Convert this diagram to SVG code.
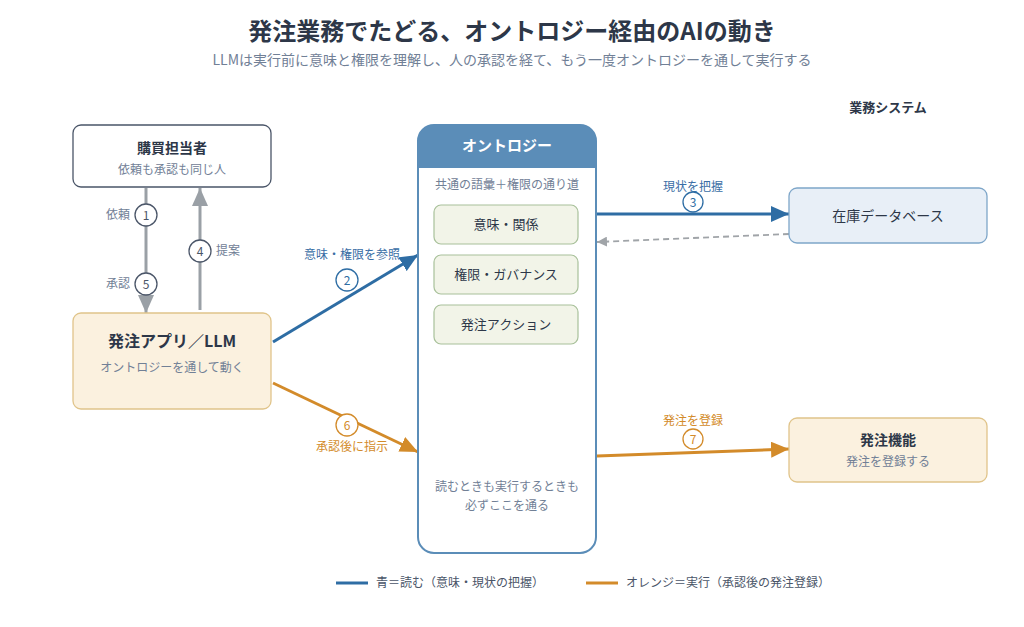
<svg xmlns="http://www.w3.org/2000/svg" width="1024" height="627" viewBox="0 0 1024 627">
<style>
text{font-family:"Noto Sans CJK JP","Noto Sans",sans-serif}
.title{font-size:24px;font-weight:700;fill:#2d3748}
.sub{font-size:14px;fill:#718096}
.h{font-size:14px;font-weight:700;fill:#2d3748}
.s{font-size:12px;fill:#718096}
.n{font-size:13px;fill:#2d3748}
.lb{font-size:12px;fill:#3a6ea5}
.lo{font-size:12px;fill:#d38b2a}
.lg{font-size:12px;fill:#718096}
.circ{fill:#fff;stroke-width:1.3}
.cn{font-size:12px}
</style>
<defs>
<marker id="ab" markerUnits="userSpaceOnUse" markerWidth="20" markerHeight="16" refX="18" refY="8" orient="auto"><path d="M0,0 L18,8 L0,16 z" fill="#2e6da4"/></marker>
<marker id="ao" markerUnits="userSpaceOnUse" markerWidth="20" markerHeight="16" refX="18" refY="8" orient="auto"><path d="M0,0 L18,8 L0,16 z" fill="#d38b2a"/></marker>
<marker id="ag" markerUnits="userSpaceOnUse" markerWidth="20" markerHeight="16" refX="18" refY="8" orient="auto"><path d="M0,0 L18,8 L0,16 z" fill="#9aa0a6"/></marker>
<marker id="agd" markerUnits="userSpaceOnUse" markerWidth="12" markerHeight="10" refX="10" refY="5" orient="auto"><path d="M0,0 L10,5 L0,10 z" fill="#a0a4a8"/></marker>
</defs>
<rect width="1024" height="627" fill="#fff"/>
<text class="title" x="512" y="40" text-anchor="middle">発注業務でたどる、オントロジー経由のAIの動き</text>
<text class="sub" x="512" y="65" text-anchor="middle">LLMは実行前に意味と権限を理解し、人の承認を経て、もう一度オントロジーを通して実行する</text>
<text x="888" y="112" text-anchor="middle" style="font-size:13px;font-weight:700;fill:#2d3748">業務システム</text>

<g id="connectors">
<line x1="146" y1="188" x2="146" y2="313" stroke="#9aa0a6" stroke-width="3" marker-end="url(#ag)"/>
<line x1="200" y1="310" x2="200" y2="188" stroke="#9aa0a6" stroke-width="3" marker-end="url(#ag)"/>
<line x1="273" y1="342" x2="418" y2="255" stroke="#2e6da4" stroke-width="3" marker-end="url(#ab)"/>
<line x1="273" y1="383" x2="418" y2="452" stroke="#d38b2a" stroke-width="3" marker-end="url(#ao)"/>
<line x1="597" y1="214" x2="789" y2="214" stroke="#2e6da4" stroke-width="3" marker-end="url(#ab)"/>
<line x1="789" y1="234" x2="597" y2="242" stroke="#a0a4a8" stroke-width="1.8" stroke-dasharray="6 4" marker-end="url(#agd)"/>
<line x1="597" y1="456" x2="789" y2="449" stroke="#d38b2a" stroke-width="3" marker-end="url(#ao)"/>

<circle class="circ" cx="146" cy="215" r="11" stroke="#4a5568"/>
<text class="cn" x="146" y="219.5" text-anchor="middle" fill="#4a5568">1</text>
<text class="lg" x="130" y="219" text-anchor="end">依頼</text>
<circle class="circ" cx="146" cy="284" r="11" stroke="#4a5568"/>
<text class="cn" x="146" y="288.5" text-anchor="middle" fill="#4a5568">5</text>
<text class="lg" x="130" y="288" text-anchor="end">承認</text>
<circle class="circ" cx="200" cy="251" r="11" stroke="#4a5568"/>
<text class="cn" x="200" y="255.5" text-anchor="middle" fill="#4a5568">4</text>
<text class="lg" x="216" y="255">提案</text>

<text class="lb" x="352" y="259" text-anchor="middle">意味・権限を参照</text>
<circle class="circ" cx="347" cy="280" r="11" stroke="#2e6da4"/>
<text class="cn" x="347" y="284.5" text-anchor="middle" fill="#2e6da4">2</text>

<circle class="circ" cx="347" cy="425" r="11" stroke="#d38b2a"/>
<text class="cn" x="347" y="429.5" text-anchor="middle" fill="#d38b2a">6</text>
<text class="lo" x="352" y="451" text-anchor="middle">承認後に指示</text>

<text class="lb" x="693" y="191" text-anchor="middle">現状を把握</text>
<circle class="circ" cx="693" cy="202" r="10" stroke="#2e6da4"/>
<text class="cn" x="693" y="206.5" text-anchor="middle" fill="#2e6da4">3</text>

<text class="lo" x="693" y="425" text-anchor="middle">発注を登録</text>
<circle class="circ" cx="693" cy="439" r="10" stroke="#d38b2a"/>
<text class="cn" x="693" y="443.5" text-anchor="middle" fill="#d38b2a">7</text>
</g>

<g id="buyer">
<rect x="73" y="125" width="198" height="62" rx="8" fill="#fff" stroke="#4a5568" stroke-width="1.3"/>
<text class="h" x="172" y="153" text-anchor="middle">購買担当者</text>
<text class="s" x="172" y="174" text-anchor="middle">依頼も承認も同じ人</text>
</g>

<g id="app">
<rect x="73" y="313" width="198" height="96" rx="8" fill="#fbf1df" stroke="#e0c48a" stroke-width="1.3"/>
<text x="172" y="347" text-anchor="middle" style="font-size:16px;font-weight:700;fill:#2d3748">発注アプリ／LLM</text>
<text class="s" x="172" y="372" text-anchor="middle">オントロジーを通して動く</text>
</g>

<g id="ontology">
<rect x="418" y="125" width="178" height="428" rx="16" fill="#fff" stroke="#5b8db8" stroke-width="2"/>
<path d="M434,125 H580 A16,16 0 0 1 596,141 V168 H418 V141 A16,16 0 0 1 434,125 Z" fill="#5b8db8"/>
<text x="507" y="151" text-anchor="middle" style="font-size:15px;font-weight:700;fill:#fff">オントロジー</text>
<text class="s" x="507" y="189" text-anchor="middle">共通の語彙＋権限の通り道</text>
<rect x="434" y="205" width="144" height="39" rx="7" fill="#f2f4e8" stroke="#a8c09a" stroke-width="1.2"/>
<text class="n" x="506" y="229" text-anchor="middle">意味・関係</text>
<rect x="434" y="255" width="144" height="39" rx="7" fill="#f2f4e8" stroke="#a8c09a" stroke-width="1.2"/>
<text class="n" x="506" y="279" text-anchor="middle">権限・ガバナンス</text>
<rect x="434" y="305" width="144" height="39" rx="7" fill="#f2f4e8" stroke="#a8c09a" stroke-width="1.2"/>
<text class="n" x="506" y="329" text-anchor="middle">発注アクション</text>
<text class="s" x="507" y="491" text-anchor="middle">読むときも実行するときも</text>
<text class="s" x="507" y="510" text-anchor="middle">必ずここを通る</text>
</g>

<g id="inventory">
<rect x="789" y="188" width="198" height="55" rx="8" fill="#e8eff7" stroke="#7ea6c9" stroke-width="1.3"/>
<text x="888" y="221" text-anchor="middle" style="font-size:14px;fill:#2d3748">在庫データベース</text>
</g>

<g id="order">
<rect x="789" y="418" width="198" height="64" rx="8" fill="#fbf1df" stroke="#e0c48a" stroke-width="1.3"/>
<text class="h" x="888" y="445" text-anchor="middle">発注機能</text>
<text class="s" x="888" y="466" text-anchor="middle">発注を登録する</text>
</g>

<g id="legend">
<line x1="336" y1="583" x2="368" y2="583" stroke="#2e6da4" stroke-width="3"/>
<text class="lg" x="376" y="587" style="fill:#4a5568">青＝読む（意味・現状の把握）</text>
<line x1="586" y1="583" x2="618" y2="583" stroke="#d38b2a" stroke-width="3"/>
<text class="lg" x="626" y="587" style="fill:#4a5568">オレンジ＝実行（承認後の発注登録）</text>
</g>
</svg>
